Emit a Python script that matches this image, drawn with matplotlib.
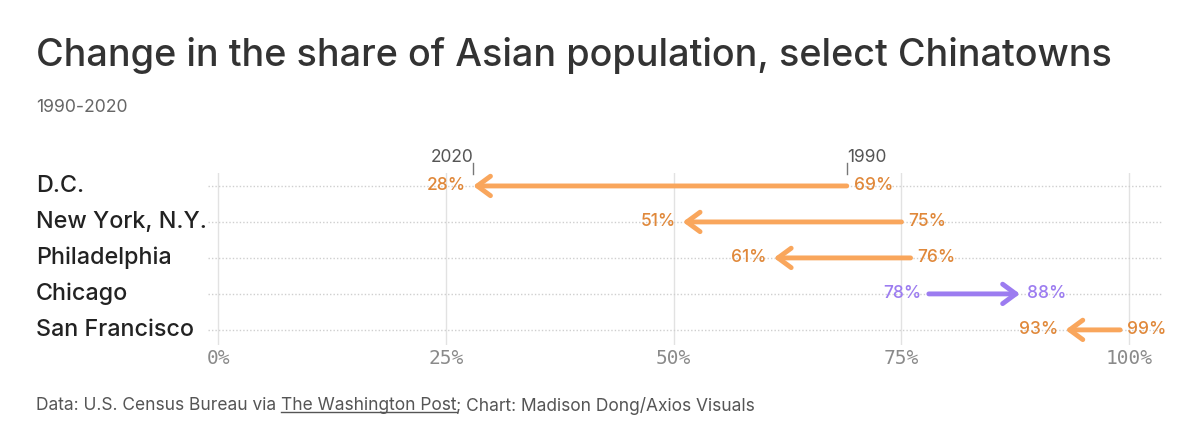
#!/usr/bin/env python3

import matplotlib
matplotlib.use("Agg")
import matplotlib.pyplot as plt
import matplotlib.transforms as mtransforms

# -----------------------------------------------------------------------------
# data
# -----------------------------------------------------------------------------

cities = ["D.C.", "New York, N.Y.", "Philadelphia", "Chicago", "San Francisco"]
share_1990 = [69, 75, 76, 78, 99]
share_2020 = [28, 51, 61, 88, 93]
x_ticks = [0, 25, 50, 75, 100]
x_tick_labels = ["0%", "25%", "50%", "75%", "100%"]

title = "Change in the share of Asian population, select Chinatowns"
subtitle = "1990-2020"

# -----------------------------------------------------------------------------
# style
# -----------------------------------------------------------------------------

plt.rcParams["font.family"] = ["Inter", "DejaVu Sans"]

orange_line = "#F9A65C"
orange_text = "#E0883A"
purple_line = "#9C7CF0"
purple_text = "#9C7CF0"

W, H = 1200, 442
fig = plt.figure(figsize=(W / 100, H / 100), dpi=100)
ax = fig.add_axes([208 / W, 1 - 345 / H, (1163 - 208) / W, (345 - 173) / H])

ax.set_xlim(-1.1, 103.7)
ax.set_ylim(4.42, -0.36)
for s in ax.spines.values():
    s.set_visible(False)
ax.set_xticks([])
ax.set_yticks([])

# grid
for xv in x_ticks:
    ax.axvline(xv, color="#e2e2e2", lw=1, zorder=0)
for i in range(len(cities)):
    ax.axhline(i, color="#cfcfcf", lw=1, ls=(0, (1, 1.5)), zorder=0)

# tick labels
for xv, lab in zip(x_ticks, x_tick_labels):
    ax.text(xv, 4.8, lab, ha="center", va="center", fontsize=14,
            family="DejaVu Sans Mono", color="#8a8a8a", clip_on=False)

# row labels
row_tr = mtransforms.blended_transform_factory(fig.transFigure, ax.transData)
for i, c in enumerate(cities):
    fig.text(36 / W, i, c, transform=row_tr, ha="left", va="center",
             fontsize=16.8, color="#222222", fontweight="medium")

# arrows
for i, (a, b) in enumerate(zip(share_1990, share_2020)):
    up = b > a
    lc = purple_line if up else orange_line
    tc = purple_text if up else orange_text
    ax.annotate("", xy=(b, i), xytext=(a, i),
                arrowprops=dict(arrowstyle="->,head_length=0.95,head_width=0.7",
                                lw=3.5, color=lc, shrinkA=0, shrinkB=0,
                                capstyle="round", joinstyle="round"))
    d = 1 if up else -1
    ax.annotate(f"{b}%", xy=(b, i), xytext=(d * 5, 0), textcoords="offset points",
                ha="left" if up else "right", va="center", fontsize=12.5,
                color=tc, fontweight="medium")
    ax.annotate(f"{a}%", xy=(a, i), xytext=(-d * 5, 0), textcoords="offset points",
                ha="right" if up else "left", va="center", fontsize=12.5,
                color=tc, fontweight="medium")

# year markers above first row
ax.plot([share_2020[0]] * 2, [-0.64, -0.33], color="#777777", lw=1, clip_on=False)
ax.plot([share_1990[0]] * 2, [-0.64, -0.33], color="#777777", lw=1, clip_on=False)
ax.text(share_2020[0], -0.78, "2020", ha="right", va="center", fontsize=12.5,
        color="#555555", clip_on=False)
ax.text(share_1990[0], -0.78, "1990", ha="left", va="center", fontsize=12.5,
        color="#555555", clip_on=False)

# title / subtitle
fig.text(36 / W, 1 - 55 / H, title, ha="left", va="center", fontsize=27.2,
         color="#333333", fontweight="medium")
fig.text(36 / W, 1 - 107 / H, subtitle, ha="left", va="center", fontsize=12.7,
         color="#666666")

# footer with underlined source
renderer = fig.canvas.get_renderer()
fy = 1 - 406 / H
parts = ["Data: U.S. Census Bureau via ", "The Washington Post",
         "; Chart: Madison Dong/Axios Visuals"]
x = 36 / W
for k, p in enumerate(parts):
    t = fig.text(x, fy, p, ha="left", va="center", fontsize=12.5, color="#555555")
    bb = t.get_window_extent(renderer)
    if k == 1:
        fig.add_artist(plt.Line2D([bb.x0 / W, bb.x1 / W],
                                  [(bb.y0 + 3) / H, (bb.y0 + 3) / H],
                                  color="#555555", lw=1))
    x = bb.x1 / W

fig.savefig("out.png", dpi=100)
